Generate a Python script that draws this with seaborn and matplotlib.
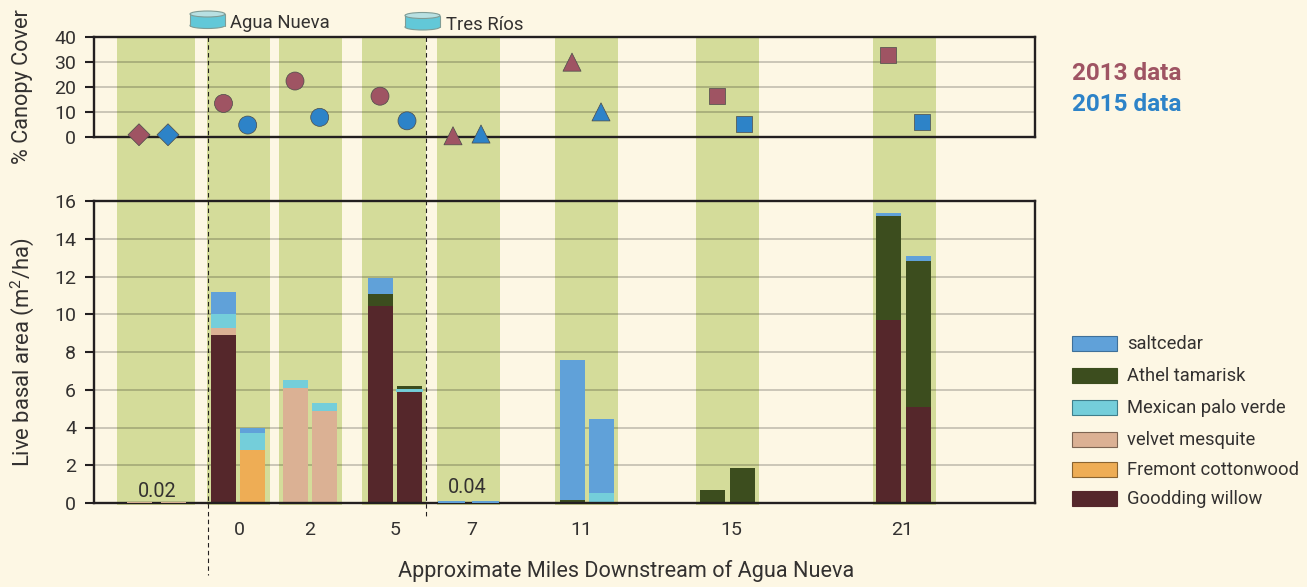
import numpy as np
import pandas as pd
import seaborn as sns
import matplotlib
matplotlib.use('Agg')
import matplotlib.pyplot as plt
from matplotlib.patches import Ellipse, Rectangle

# x axis runs in figure pixels so the uneven site spacing stays put
site_labels = ['0', '2', '5', '7', '11', '15', '21']
site_ticks = [239, 310, 395, 472, 581, 731, 902]
bands = [(117, 195), (207, 270), (279, 342), (362, 426), (437, 500), (555, 618), (696, 759), (873, 936)]

# canopy cover, one value per site, upstream site first
marker_x_2013 = [139, 223.5, 295, 380, 453, 572, 717, 888]
marker_x_2015 = [168, 247.7, 319.7, 407, 481, 601, 744, 922]
canopy_2013 = [0.7, 13.3, 22.3, 16.2, 0.3, 29.9, 16.3, 32.7]
canopy_2015 = [0.7, 4.6, 7.7, 6.3, 1.0, 9.9, 5.0, 5.9]
site_shape = ['D', 'o', 'o', 'o', '^', '^', 's', 's']
shape_size = {'D': 125, 'o': 168, '^': 170, 's': 133}

# basal area, two bars per site (2013, 2015)
bar_x = [139, 173, 223.5, 252.5, 295.5, 324.5, 380.5, 409.5, 451.5, 485.5, 572.5, 601.5, 712.5, 742.5, 888.5, 918.5]
willow = [0, 0, 8.88, 0, 0, 0, 10.42, 5.92, 0, 0, 0, 0, 0, 0, 9.70, 5.07]
cottonwood = [0, 0, 0, 2.79, 0, 0, 0, 0, 0, 0, 0, 0, 0, 0, 0, 0]
mesquite = [0.02, 0.02, 0.37, 0, 6.11, 4.86, 0, 0, 0, 0, 0, 0, 0, 0, 0, 0]
palo_verde = [0, 0, 0.75, 0.90, 0.39, 0.42, 0, 0.05, 0, 0, 0, 0.53, 0, 0, 0, 0]
athel = [0, 0, 0, 0, 0, 0, 0.63, 0.21, 0, 0, 0.16, 0, 0.69, 1.85, 5.51, 7.76]
saltcedar = [0, 0, 1.20, 0.30, 0, 0, 0.85, 0, 0.04, 0.04, 7.42, 3.92, 0, 0, 0.16, 0.26]

species = ['Goodding willow', 'Fremont cottonwood', 'velvet mesquite', 'Mexican palo verde', 'Athel tamarisk', 'saltcedar']
species_vals = [willow, cottonwood, mesquite, palo_verde, athel, saltcedar]
species_cols = ['#55272B', '#EEAD55', '#DBB194', '#74CEDA', '#3C4D1E', '#60A1D9']

legend_y = [498, 469, 439, 407, 375, 343]
legend_edge = ['#55272B', '#8A6430', '#7D6552', '#3F7F8C', '#3C4D1E', '#3F7099']

BG = '#FDF7E4'
BAND = '#D4DC9A'
INK = '#231F20'
TXT = '#333130'
C13 = '#9F5463'
C15 = '#2D83C8'

sns.set_style('white')
plt.rcParams['font.family'] = ['Roboto', 'DejaVu Sans']
plt.rcParams['mathtext.default'] = 'regular'

W, H = 1307, 587
fig = plt.figure(figsize=(W / 100, H / 100), dpi=100, facecolor=BG)

# pixel overlay behind the panels, for bands, dashes, icons and legend
bg = fig.add_axes([0, 0, 1, 1], zorder=0)
bg.set_xlim(0, W)
bg.set_ylim(H, 0)
bg.axis('off')

for b0, b1 in bands:
    bg.add_patch(Rectangle((b0, 37), b1 - b0, 468, color=BAND, lw=0))

bg.plot([207.5, 207.5], [37, 575], color=INK, lw=0.8, ls=(0, (4, 3)))
bg.plot([425.7, 425.7], [37, 516], color=INK, lw=0.8, ls=(0, (4, 3)))


def tank(x0, y0):
    w, h = 35, 17.5
    edge = '#7F9C96'
    bg.add_patch(Ellipse((x0 + w / 2, y0 + h - 3), w, 6, fc='#62C8D8', ec=edge, lw=0.8))
    bg.add_patch(Rectangle((x0, y0 + 3), w, h - 6, fc='#62C8D8', ec='none'))
    bg.plot([x0, x0], [y0 + 3, y0 + h - 3], color=edge, lw=0.8)
    bg.plot([x0 + w, x0 + w], [y0 + 3, y0 + h - 3], color=edge, lw=0.8)
    bg.add_patch(Ellipse((x0 + w / 2, y0 + 3), w, 6, fc='#B8E0E2', ec=edge, lw=0.8))


tank(190, 11)
tank(405, 12.5)
bg.text(230, 23.5, 'Agua Nueva', fontsize=13.3, color=TXT, va='center')
bg.text(446, 24.5, 'Tres Ríos', fontsize=13.3, color=TXT, va='center')
bg.text(1072, 73, '2013 data', fontsize=17.5, fontweight='bold', color=C13, va='center')
bg.text(1072, 104.5, '2015 data', fontsize=17.5, fontweight='bold', color=C15, va='center')

for name, col, edge, ly in zip(species[::-1], species_cols[::-1], legend_edge[::-1], legend_y[::-1]):
    bg.add_patch(Rectangle((1072, ly - 7.5), 45, 15, fc=col, ec=edge, lw=0.8))
    bg.text(1127, ly + 1, name, fontsize=13.2, color=TXT, va='center')

bg.text(626.5, 571, 'Approximate Miles Downstream of Agua Nueva', fontsize=15.6, color=TXT, ha='center', va='center')
bg.text(22.5, 87, '% Canopy Cover', fontsize=15.6, color=TXT, rotation=90, ha='center', va='center')
bg.text(22, 352, 'Live basal area (m$^2$/ha)', fontsize=15.8, color=TXT, rotation=90, ha='center', va='center')

top = fig.add_axes([93.5 / W, 1 - 136.5 / H, 941.5 / W, 99.5 / H], zorder=1)
bot = fig.add_axes([93.5 / W, 1 - 503 / H, 941.5 / W, 302 / H], zorder=1)

# canopy markers
canopy = pd.DataFrame({
    'x': marker_x_2013 + marker_x_2015,
    'cover': canopy_2013 + canopy_2015,
    'year': ['2013'] * 8 + ['2015'] * 8,
    'shape': site_shape * 2,
})
for shape, size in shape_size.items():
    sns.scatterplot(data=canopy[canopy['shape'] == shape], x='x', y='cover', hue='year',
                    palette={'2013': C13, '2015': C15}, marker=shape, s=size,
                    edgecolor='#4A4A4A', linewidth=0.5, clip_on=False, zorder=4,
                    legend=False, ax=top)

# stacked bars
bottoms = np.zeros(len(bar_x))
for name, vals, col in zip(species, species_vals, species_cols):
    n_before = len(bot.patches)
    sns.barplot(x=bar_x, y=vals, native_scale=True, width=25 / 29, color=col, saturation=1,
                bottom=bottoms, errorbar=None, linewidth=0, edgecolor='none', ax=bot)
    for p in bot.patches[n_before:]:
        # hairline values would vanish otherwise
        if 0 < p.get_height() < 0.1:
            p.set_edgecolor(col)
            p.set_linewidth(1.4)
            p.set_zorder(3)
    bottoms = bottoms + np.array(vals)

bot.text(157.5, 0.62, '0.02', fontsize=14.3, color=TXT, ha='center', va='center')
bot.text(467.5, 0.83, '0.04', fontsize=14.3, color=TXT, ha='center', va='center')

for ax, ymax, step in [(top, 40, 10), (bot, 16, 2)]:
    ax.set_xlim(93.5, 1035)
    ax.set_ylim(0, ymax)
    ax.set_facecolor('none')
    ax.set_yticks(np.arange(0, ymax + 1, step))
    ax.set_xlabel('')
    ax.set_ylabel('')
    ax.set_axisbelow(True)
    ax.grid(axis='y', color='#000000', alpha=0.25, lw=1.1)
    ax.grid(axis='x', visible=False)
    ax.tick_params(axis='y', labelsize=14, labelcolor=TXT, length=6.5, width=1.5, color=INK, pad=6, left=True)
    for s in ax.spines.values():
        s.set_visible(True)
        s.set_color(INK)
        s.set_linewidth(1.7)

top.set_xticks([])
bot.set_xticks(site_ticks)
bot.set_xticklabels(site_labels)
bot.tick_params(axis='x', length=0, labelsize=14, labelcolor=TXT, pad=13)

fig.savefig('out.png', dpi=100, facecolor=BG)
